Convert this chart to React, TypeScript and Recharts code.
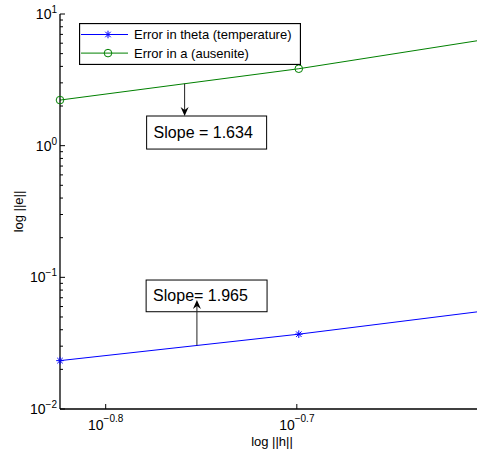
import React from "react";
import {
  LineChart, Line, XAxis, YAxis, ReferenceArea, ReferenceLine, Legend,
} from "recharts";

const FONT = "'Liberation Sans', Arial, Helvetica, sans-serif";

// mesh size h and the two error norms
const meshSize = [0.15, 0.2, 0.25];
const thetaError = [0.0233, 0.037, 0.0555];
const austeniteError = [2.22, 3.84, 6.38];

const seriesNames = ["Error in theta (temperature)", "Error in a (ausenite)"];

const xTicks = [0.158489, 0.199526];
const xTickLabels = ["\u22120.8", "\u22120.7"];

const yMajorTicks = [0.01, 0.1, 1, 10];
const yMajorLabels = ["\u22122", "\u22121", "0", "1"];
const yMinorTicks = [
  0.02, 0.03, 0.04, 0.05, 0.06, 0.07, 0.08, 0.09,
  0.2, 0.3, 0.4, 0.5, 0.6, 0.7, 0.8, 0.9,
  2, 3, 4, 5, 6, 7, 8, 9,
];
const yTicks = [...yMajorTicks, ...yMinorTicks].sort((a, b) => a - b);

// slope annotations, in data coordinates
const slopeTexts = ["Slope = 1.634", "Slope= 1.965"];
const slopeBoxes = [
  { x1: 0.1665, x2: 0.1924, y1: 0.9424, y2: 1.68 },
  { x1: 0.1664, x2: 0.1925, y1: 0.0548, y2: 0.0954 },
];
const slopeArrows = [
  { x: 0.1743, from: 2.955, to: 1.68 },
  { x: 0.1769, from: 0.0304, to: 0.0673 },
];

const data = meshSize.map((h, i) => ({
  h,
  theta: thetaError[i],
  austenite: austeniteError[i],
}));

const Star = ({ cx, cy, stroke }: any) => {
  if (cx == null || cy == null) return null;
  const r = 3.8;
  const d = r * 0.72;
  return (
    <g stroke={stroke} strokeWidth={1}>
      <line x1={cx - r} y1={cy} x2={cx + r} y2={cy} />
      <line x1={cx} y1={cy - r} x2={cx} y2={cy + r} />
      <line x1={cx - d} y1={cy - d} x2={cx + d} y2={cy + d} />
      <line x1={cx - d} y1={cy + d} x2={cx + d} y2={cy - d} />
    </g>
  );
};

const Ring = ({ cx, cy, stroke }: any) => {
  if (cx == null || cy == null) return null;
  return <circle cx={cx} cy={cy} r={3.8} fill="none" stroke={stroke} strokeWidth={1} />;
};

const XTick = ({ x, y, payload }: any) => {
  const i = xTicks.indexOf(payload.value);
  return (
    <g>
      <line x1={x} y1={y} x2={x} y2={y - 5} stroke="#000" />
      <text x={x} y={y + 21} textAnchor="middle" fontFamily={FONT} fontSize={14} fill="#000">
        10<tspan dy={-8} fontSize={10}>{xTickLabels[i]}</tspan>
      </text>
    </g>
  );
};

const TopTick = ({ x, y }: any) => (
  <line x1={x} y1={y} x2={x} y2={y + 5} stroke="#000" />
);

const YTick = ({ x, y, payload }: any) => {
  const i = yMajorTicks.indexOf(payload.value);
  if (i < 0) {
    return <line x1={x} y1={y} x2={x + 3} y2={y} stroke="#000" />;
  }
  return (
    <g>
      <line x1={x} y1={y} x2={x + 5} y2={y} stroke="#000" />
      <text x={x - 3} y={y + 5} textAnchor="end" fontFamily={FONT} fontSize={14} fill="#000">
        10<tspan dy={-6} fontSize={10}>{yMajorLabels[i]}</tspan>
      </text>
    </g>
  );
};

const Arrow = ({ x1, y1, x2, y2 }: any) => {
  const dir = y2 > y1 ? 1 : -1;
  const len = 9;
  const hw = 4;
  return (
    <g>
      <line x1={x1} y1={y1} x2={x2} y2={y2 - dir * 4} stroke="#222" strokeWidth={1} />
      <polygon
        points={`${x2},${y2} ${x2 - hw},${y2 - dir * len} ${x2},${y2 - dir * 6} ${x2 + hw},${y2 - dir * len}`}
        fill="#000"
      />
    </g>
  );
};

const boxShape = (text: string) => ({ x, y, width, height }: any) => (
  <g>
    <rect x={x} y={y} width={width} height={height} fill="#fff" stroke="#000" strokeWidth={1} />
    <text x={x + 7} y={y + height / 2 + 5.5} fontFamily={FONT} fontSize={16} fill="#000">
      {text}
    </text>
  </g>
);

const LegendBox = ({ payload }: any) => {
  const items = [...(payload || [])].sort(
    (a: any, b: any) => seriesNames.indexOf(a.value) - seriesNames.indexOf(b.value),
  );
  return (
    <svg width={222} height={42} style={{ display: "block" }}>
      <rect x={0.5} y={0.5} width={221} height={41} fill="#fff" stroke="#000" strokeWidth={1.3} />
      {items.map((p: any, i: number) => {
        const cy = 11.5 + i * 18.6;
        return (
          <g key={p.value}>
            <line x1={2} y1={cy} x2={49} y2={cy} stroke={p.color} strokeWidth={1} />
            {p.dataKey === "theta"
              ? <Star cx={29} cy={cy} stroke={p.color} />
              : <Ring cx={29} cy={cy} stroke={p.color} />}
            <text x={55} y={cy + 4.5} fontFamily={FONT} fontSize={13} fill="#000">
              {p.value}
            </text>
          </g>
        );
      })}
    </svg>
  );
};

export default function App() {
  return (
    <div
      style={{
        position: "fixed", left: 0, top: 0, width: 477, height: 453,
        overflow: "hidden", background: "#fff",
      }}
    >
      <LineChart
        width={500}
        height={453}
        data={data}
        margin={{ top: 14, right: 16, bottom: 14, left: 0 }}
      >
        <XAxis
          dataKey="h"
          type="number"
          scale="log"
          domain={[0.15, 0.25]}
          ticks={xTicks}
          interval={0}
          tickSize={0}
          tickMargin={0}
          tick={XTick}
          height={30}
          stroke="#000"
          strokeWidth={1.3}
          label={({ viewBox }: any) => (
            <text
              x={viewBox.x + viewBox.width / 2}
              y={viewBox.y + 37}
              textAnchor="middle"
              fontFamily={FONT}
              fontSize={13}
              fill="#000"
            >
              log ||h||
            </text>
          )}
        />
        <XAxis
          xAxisId="top"
          orientation="top"
          dataKey="h"
          type="number"
          scale="log"
          domain={[0.15, 0.25]}
          ticks={xTicks}
          interval={0}
          tickSize={0}
          tickMargin={0}
          tick={TopTick}
          height={0}
          stroke="#000"
          strokeWidth={1.3}
        />
        <YAxis
          type="number"
          scale="log"
          domain={[0.01, 10]}
          ticks={yTicks}
          interval={0}
          tickSize={0}
          tickMargin={0}
          tick={YTick}
          width={60}
          stroke="#000"
          strokeWidth={1.3}
          label={({ viewBox }: any) => {
            const cy = viewBox.y + viewBox.height / 2;
            return (
              <text
                x={18}
                y={cy}
                transform={`rotate(-90 18 ${cy})`}
                textAnchor="middle"
                dominantBaseline="central"
                fontFamily={FONT}
                fontSize={13}
                fill="#000"
              >
                log ||e||
              </text>
            );
          }}
        />
        <Legend
          layout="vertical"
          align="center"
          verticalAlign="middle"
          wrapperStyle={{ left: 79, top: 23, width: "auto" }}
          content={LegendBox}
        />
        <Line
          dataKey="theta"
          name={seriesNames[0]}
          stroke="#0000ff"
          strokeWidth={1}
          isAnimationActive={false}
          dot={(p: any) => <Star key={`s${p.index}`} {...p} />}
        />
        <Line
          dataKey="austenite"
          name={seriesNames[1]}
          stroke="#008000"
          strokeWidth={1}
          isAnimationActive={false}
          dot={(p: any) => <Ring key={`r${p.index}`} {...p} />}
        />
        {slopeBoxes.map((b, i) => (
          <ReferenceArea
            key={`box${i}`}
            x1={b.x1}
            x2={b.x2}
            y1={b.y1}
            y2={b.y2}
            shape={boxShape(slopeTexts[i])}
          />
        ))}
        {slopeArrows.map((a, i) => (
          <ReferenceLine
            key={`arrow${i}`}
            segment={[{ x: a.x, y: a.from }, { x: a.x, y: a.to }]}
            shape={Arrow}
          />
        ))}
      </LineChart>
    </div>
  );
}
